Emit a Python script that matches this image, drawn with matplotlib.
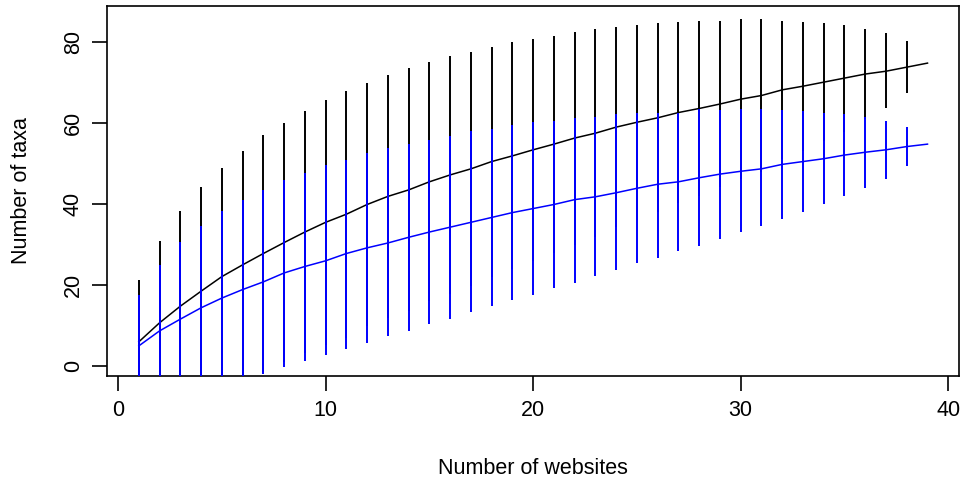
import numpy as np
import matplotlib.pyplot as plt

plt.rcParams['font.family'] = ['Liberation Sans', 'DejaVu Sans']

# number of websites sampled
sites = list(range(1, 40))

# black curve: all taxa
all_mean = [5.9, 10.6, 14.7, 18.4, 22.0, 24.9, 27.7, 30.4, 33.0, 35.4,
            37.4, 39.8, 41.8, 43.4, 45.4, 47.1, 48.6, 50.4, 51.8, 53.3,
            54.7, 56.2, 57.4, 58.9, 60.1, 61.2, 62.5, 63.5, 64.6, 65.8,
            66.7, 68.1, 69.0, 70.0, 71.0, 72.0, 72.7, 73.7, 74.7]
all_upper = [21.2, 30.9, 38.2, 44.2, 48.8, 53.1, 56.9, 59.8, 62.8, 65.6,
             67.9, 69.8, 71.8, 73.4, 74.9, 76.5, 77.5, 78.8, 79.8, 80.7,
             81.5, 82.5, 83.1, 83.5, 84.2, 84.5, 84.8, 85.2, 85.2, 85.5,
             85.5, 85.2, 84.9, 84.5, 84.2, 83.1, 82.1, 80.2, 74.7]
all_lower = [-9.4, -9.7, -8.8, -7.4, -4.8, -3.3, -1.5, 1.0, 3.2, 5.2,
             6.9, 9.8, 11.8, 13.4, 15.9, 17.7, 19.7, 22.0, 23.8, 25.9,
             27.9, 29.9, 31.7, 34.3, 36.0, 37.9, 40.2, 41.8, 44.0, 46.1,
             47.9, 51.0, 53.1, 55.5, 57.8, 60.9, 63.6, 67.3, 74.7]

# blue curve: subset of taxa
sub_mean = [4.9, 8.6, 11.5, 14.3, 16.7, 18.8, 20.7, 22.9, 24.5, 25.9,
            27.7, 29.1, 30.3, 31.7, 33.0, 34.2, 35.4, 36.6, 37.8, 38.8,
            39.8, 41.0, 41.7, 42.7, 43.8, 44.8, 45.4, 46.4, 47.3, 48.0,
            48.6, 49.7, 50.4, 51.1, 52.0, 52.7, 53.3, 54.1, 54.7]
sub_upper = [17.5, 24.9, 30.5, 34.5, 38.2, 40.9, 43.5, 45.9, 47.5, 49.6,
             50.8, 52.4, 53.8, 54.7, 55.8, 56.8, 57.9, 58.4, 59.4, 60.2,
             60.5, 61.2, 61.5, 62.2, 62.5, 62.3, 62.5, 63.3, 63.1, 63.3,
             63.3, 63.1, 62.8, 62.5, 62.2, 61.5, 60.5, 58.9, 54.7]
sub_lower = [-12.0, -11.0, -10.0, -8.0, -6.0, -4.0, -2.0, -0.4, 1.2, 2.6,
             4.2, 5.7, 7.3, 8.6, 10.3, 11.6, 13.3, 14.7, 16.3, 17.5,
             19.2, 20.5, 22.1, 23.6, 25.3, 26.6, 28.2, 29.6, 31.2, 32.9,
             34.6, 36.2, 37.9, 39.9, 41.8, 43.8, 46.2, 49.3, 54.7]

fig = plt.figure(figsize=(9.63, 4.83), dpi=100)
ax = fig.add_axes([0.1114, 0.2215, 0.8845, 0.7661])

ax.vlines(sites, all_lower, all_upper, color='black', lw=1.4, zorder=1)
ax.plot(sites, all_mean, color='black', lw=1.1, zorder=2)
ax.vlines(sites, sub_lower, sub_upper, color='#0000ff', lw=1.4, zorder=3)
ax.plot(sites, sub_mean, color='#0000ff', lw=1.1, zorder=4)

ax.set_xlim(-0.52, 40.52)
ax.set_ylim(-2.54, 88.8)
ax.set_xticks([0, 10, 20, 30, 40])
ax.set_yticks([0, 20, 40, 60, 80])
ax.tick_params(length=11, width=1.2, labelsize=15.5, pad=6)
for lab in ax.get_yticklabels():
    lab.set_rotation(90)
    lab.set_va('center')
for s in ax.spines.values():
    s.set_linewidth(1.2)

ax.set_xlabel("Number of websites", fontsize=15.5, labelpad=27)
ax.set_ylabel("Number of taxa", fontsize=15.5, labelpad=22)

fig.savefig("out.png", dpi=100)
